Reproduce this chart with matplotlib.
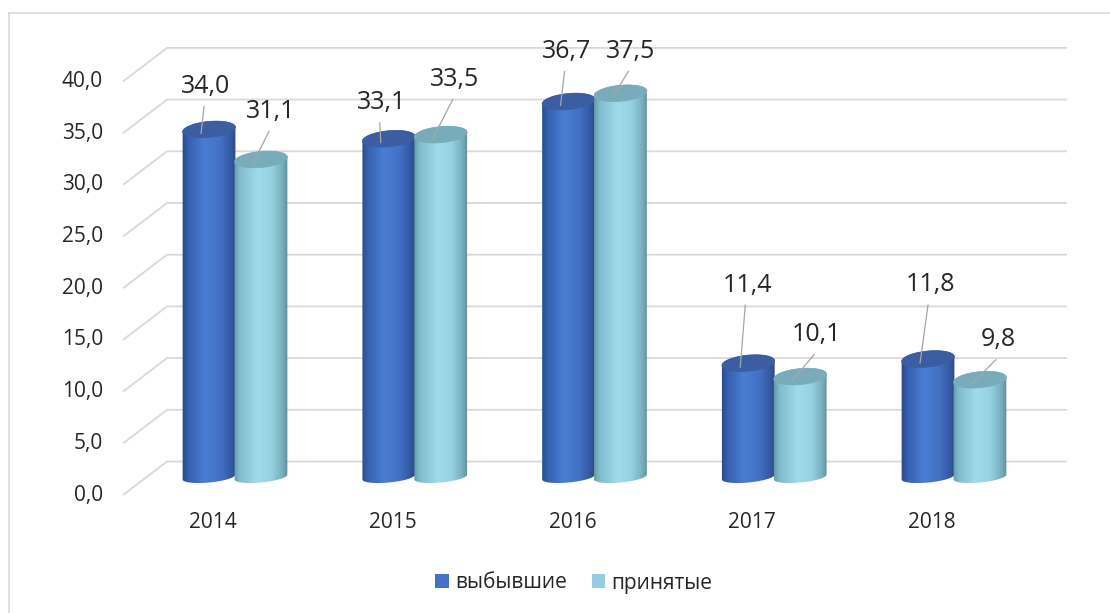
import numpy as np
import matplotlib
matplotlib.use("Agg")
import matplotlib.pyplot as plt
from matplotlib.patches import Polygon, Patch
from matplotlib.lines import Line2D

plt.rcParams['font.family'] = ['Open Sans', 'DejaVu Sans']

# ---------------- data ----------------
years = ["2014", "2015", "2016", "2017", "2018"]
series_names = ["выбывшие", "принятые"]
vybyvshie = [34.0, 33.1, 36.7, 11.4, 11.8]
prinyatye = [31.1, 33.5, 37.5, 10.1, 9.8]
y_ticks = [0, 5, 10, 15, 20, 25, 30, 35, 40]

# label placement offsets in pixels (dx, dy-down) relative to cylinder top
lbl_off_dark = [(-3, -43), (-7, -36), (-2, -50), (-1, -78), (2, -74)]
lbl_off_light = [(10, -48), (14, -55), (10, -42), (16, -42), (18, -40)]

# ---------------- style ----------------
W, H, DPI = 1110, 613, 100
X0_PX, XSTEP = 235.0, 179.75      # pixel x of category 0 centre, pixels per category
Y0_PX, YSCALE = 481.0, 10.34      # pixel y (from top) of value 0, pixels per unit
GRID_C = "#D9D9D9"
TXT_C = "#262626"
LEAD_C = "#A6A6A6"
DARK_STOPS = [(0.0, "#2A4887"), (0.12, "#3560AE"), (0.42, "#4A7ED3"),
              (0.7, "#4271C4"), (0.9, "#3358A0"), (1.0, "#2A4782")]
LIGHT_STOPS = [(0.0, "#5F93A1"), (0.12, "#80BCCC"), (0.45, "#A0DBEB"),
               (0.7, "#95D1E1"), (0.9, "#77AEBD"), (1.0, "#5C8E9B")]
DARK_TOP = "#3B5EA2"
LIGHT_TOP = "#78ACBA"
LEG_DARK = "#4472C4"
LEG_LIGHT = "#93CDDF"

fig = plt.figure(figsize=(W / DPI, H / DPI), dpi=DPI)
ax = fig.add_axes([0, 0, 1, 1])
ax.set_axis_off()


def px_x(p):
    return p / XSTEP


def px_y(p):
    return p / YSCALE


def offset(x, v, dxp, dyp_down):
    return x + px_x(dxp), v - px_y(dyp_down)


def gradient(stops, n=256):
    pos = [s[0] for s in stops]
    cols = np.array([matplotlib.colors.to_rgb(s[1]) for s in stops])
    t = np.linspace(0, 1, n)
    return np.stack([np.interp(t, pos, cols[:, k]) for k in range(3)], axis=1)


def ellipse_pts(cx, cv, a, b, theta_deg, t0=0, t1=2 * np.pi, n=80):
    th = np.deg2rad(theta_deg)
    t = np.linspace(t0, t1, n)
    xp = a * np.cos(t)
    yp = b * np.sin(t)
    xr = xp * np.cos(th) - yp * np.sin(th)
    yr = xp * np.sin(th) + yp * np.cos(th)
    return np.column_stack([cx + px_x(xr), cv + px_y(yr)])


A_PX = 26.5
B_TOP = 8.0
B_BOT = 5.5
TILT = 5.5
BOT_UP = 4.0


def cylinder(cx, v, stops, top_color, z):
    top = ellipse_pts(cx, v, A_PX, B_TOP, TILT)
    bot_v = 0 + px_y(BOT_UP)
    top_half = ellipse_pts(cx, v, A_PX, B_TOP, TILT, 0, np.pi, 40)
    bot_half = ellipse_pts(cx, bot_v, A_PX, B_BOT, TILT, np.pi, 2 * np.pi, 60)
    body = np.vstack([top_half, bot_half])
    clip = Polygon(body, closed=True, transform=ax.transData,
                   facecolor="none", edgecolor="none")
    ax.add_patch(clip)
    g = gradient(stops)[np.newaxis, :, :]
    ymin = bot_v - px_y(B_BOT + 2)
    ymax = v + px_y(B_TOP + 3)
    im = ax.imshow(g, extent=(cx - px_x(A_PX + 1), cx + px_x(A_PX + 1), ymin, ymax),
                   aspect="auto", interpolation="bilinear", zorder=z, origin="lower")
    im.set_clip_path(clip)
    ax.add_patch(Polygon(top, closed=True, facecolor=top_color,
                         edgecolor=top_color, lw=0.5, zorder=z + 0.5))


# ---------------- walls / gridlines ----------------
WALL_X = (141 - X0_PX) / XSTEP
RIGHT_X = (1041 - X0_PX) / XSTEP
for v in y_ticks:
    p1 = offset(WALL_X, v, -18, 14)
    p2 = offset(WALL_X, v, 26, -19.5)
    p3 = offset(RIGHT_X, v, 26, -19.5)
    xs = [p1[0], p2[0], p3[0]]
    ys = [p1[1], p2[1], p3[1]]
    ax.plot(xs, ys, color=GRID_C, lw=1.3, zorder=1, solid_capstyle="butt")
    ax.annotate(f"{v:.1f}".replace(".", ","), xy=(WALL_X, v),
                xytext=(-38 * 0.72, -14 * 0.72), textcoords="offset points",
                ha="right", va="center", fontsize=15, color=TXT_C)

# ---------------- cylinders ----------------
half = px_x(A_PX) * 0.98
for i, yr in enumerate(years):
    cylinder(i - half, vybyvshie[i], DARK_STOPS, DARK_TOP, 3)
    cylinder(i + half, prinyatye[i], LIGHT_STOPS, LIGHT_TOP, 4)

# ---------------- data labels with leader lines ----------------
for vals, offs, sgn in [(vybyvshie, lbl_off_dark, -1), (prinyatye, lbl_off_light, 1)]:
    for i, v in enumerate(vals):
        cx = i + sgn * half
        dx, dy = offs[i]
        lx, lv = offset(cx, v, dx, dy)
        ax.text(lx, lv, f"{v:.1f}".replace(".", ","), ha="center", va="center",
                fontsize=18, color=TXT_C, zorder=8)
        s = offset(cx, v, dx - 2, dy + 20)
        e = offset(cx, v, -8, 4)
        ax.plot([s[0], e[0]], [s[1], e[1]], color=LEAD_C, lw=0.9, zorder=7)

# ---------------- category labels ----------------
for i, yr in enumerate(years):
    ax.annotate(yr, xy=(i, 0), xytext=(-22 * 0.72, -42 * 0.72),
                textcoords="offset points", ha="center", va="center",
                fontsize=15, color=TXT_C)

# ---------------- legend ----------------
handles = [Patch(facecolor=LEG_DARK, edgecolor="none", label=series_names[0]),
           Patch(facecolor=LEG_LIGHT, edgecolor="none", label=series_names[1])]
fig.legend(handles=handles, loc="center", bbox_to_anchor=(574 / W, 1 - 583 / H),
           ncol=2, frameon=False, fontsize=15, handlelength=0.65, handleheight=0.65,
           handletextpad=0.3, columnspacing=1.2, labelcolor=TXT_C)

# ---------------- outer border ----------------
fig.add_artist(Line2D([9 / W, 9 / W], [0, 1 - 13 / H], color=GRID_C, lw=1.2,
                      transform=fig.transFigure))
fig.add_artist(Line2D([9 / W, 1], [1 - 13 / H, 1 - 13 / H], color=GRID_C, lw=1.2,
                      transform=fig.transFigure))

# axis limits: map category/value space onto the pixel layout
ax.set_xlim((0 - X0_PX) / XSTEP, (W - X0_PX) / XSTEP)
ax.set_ylim((Y0_PX - H) / YSCALE, Y0_PX / YSCALE)
ax.set_aspect("auto")

fig.savefig("out.png", dpi=DPI)
